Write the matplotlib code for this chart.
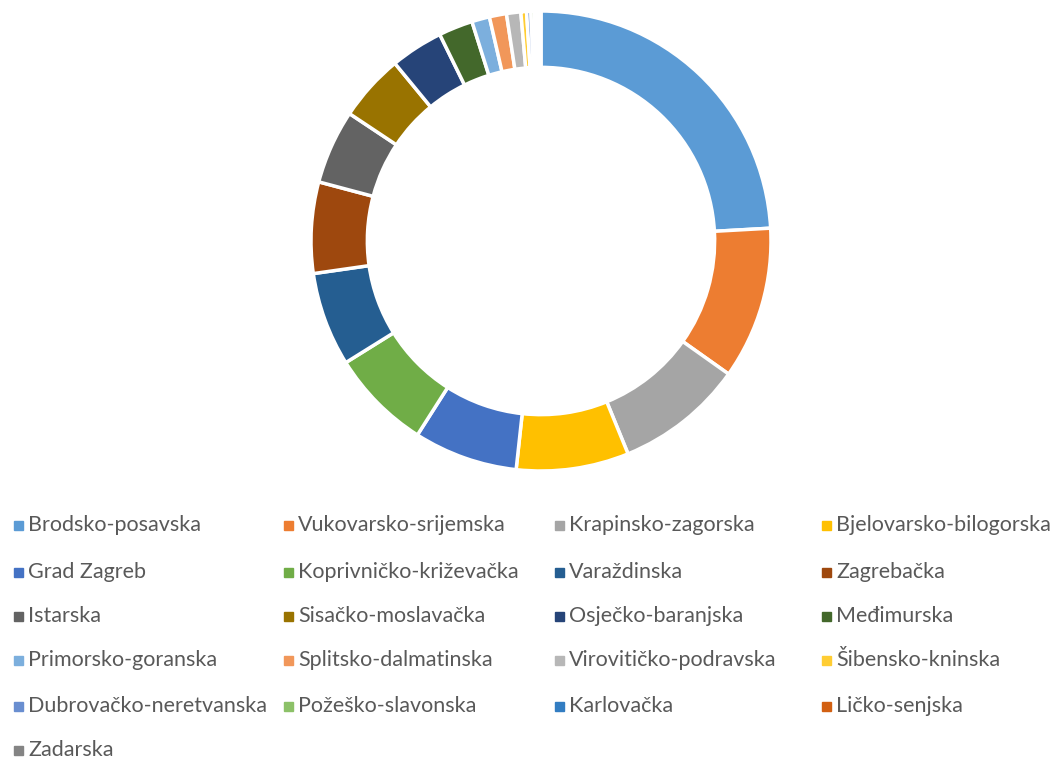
import matplotlib.pyplot as plt
from matplotlib.patches import Rectangle

plt.rcParams['font.family'] = ['Lato', 'DejaVu Sans']

zupanije = ['Brodsko-posavska', 'Vukovarsko-srijemska', 'Krapinsko-zagorska',
            'Bjelovarsko-bilogorska', 'Grad Zagreb', 'Koprivničko-križevačka',
            'Varaždinska', 'Zagrebačka', 'Istarska', 'Sisačko-moslavačka',
            'Osječko-baranjska', 'Međimurska', 'Primorsko-goranska',
            'Splitsko-dalmatinska', 'Virovitičko-podravska', 'Šibensko-kninska',
            'Dubrovačko-neretvanska', 'Požeško-slavonska', 'Karlovačka',
            'Ličko-senjska', 'Zadarska']
udjeli = [24.1, 10.7, 9.0, 7.9, 7.3, 7.1, 6.6, 6.4, 5.2, 4.7,
          3.7, 2.4, 1.25, 1.2, 1.0, 0.4, 0.3, 0.25, 0.2, 0.15, 0.1]
boje = ['#5B9BD5', '#ED7D31', '#A5A5A5', '#FFC000', '#4472C4', '#70AD47',
        '#255E91', '#9E480E', '#636363', '#997300', '#264478', '#43682B',
        '#7CAFDD', '#F1975A', '#B7B7B7', '#FFCD33', '#698ED0', '#8CC168',
        '#327DC2', '#D26012', '#848484']

W, H = 1062, 761
fig = plt.figure(figsize=(W / 100, H / 100), dpi=100)
cx, cy, r = 541, 241, 230
ax = fig.add_axes([(cx - r) / W, (H - cy - r) / H, 2 * r / W, 2 * r / H])
ax.pie(udjeli, colors=boje, startangle=90, counterclock=False, radius=1,
       wedgeprops=dict(width=0.245, edgecolor='white', linewidth=2.5))
ax.set_xlim(-1.0, 1.0)
ax.set_ylim(-1.0, 1.0)
ax.set_aspect('equal')
ax.axis('off')

# legenda u 4 stupca
stupci_x = [14, 284, 555, 822]
redovi_y = [525, 572, 616, 660, 706, 750]
for i, (ime, boja) in enumerate(zip(zupanije, boje)):
    x = stupci_x[i % 4]
    y = redovi_y[i // 4]
    fig.patches.append(Rectangle((x / W, (H - y - 4.5) / H), 9 / W, 9 / H,
                                 transform=fig.transFigure, color=boja,
                                 figure=fig))
    fig.text((x + 14) / W, (H - y) / H, ime, fontsize=15.5, color='#595959',
             va='center', ha='left')

fig.savefig('out.png', dpi=100)
